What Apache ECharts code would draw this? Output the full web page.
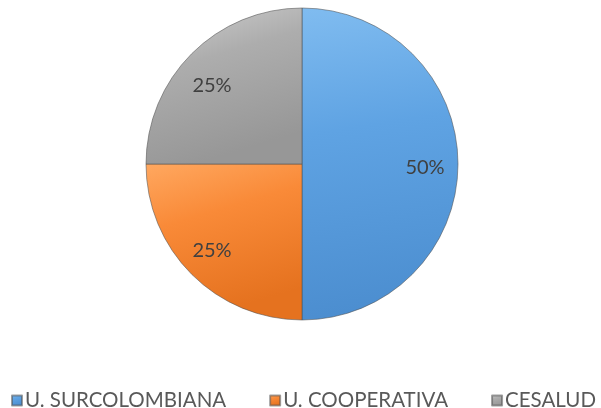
<!DOCTYPE html>
<html>
<head>
<meta charset="utf-8">
<script src="https://cdn.jsdelivr.net/npm/echarts@6/dist/echarts.min.js"></script>
<style>
html,body{margin:0;padding:0;background:#fff;}
#chart{width:601px;height:408px;}
</style>
</head>
<body>
<div id="chart"></div>
<script>
var categories = ['U. SURCOLOMBIANA', 'U. COOPERATIVA', 'CESALUD'];
var values = [50, 25, 25];
var labels = ['50%', '25%', '25%'];

var gradients = [
  ['#80bcf0', '#5fa3e3', '#4b8dcf'],
  ['#ffa860', '#f98a38', '#e5721f'],
  ['#cfcfcf', '#adadad', '#979797']
];
var labelOffsets = [[0, 4], [-3, 0], [-3, 9]];
function grad(c) {
  return {
    type: 'linear', x: 0, y: 0, x2: 0.3, y2: 1,
    colorStops: [{offset: 0, color: c[0]}, {offset: 0.4, color: c[1]}, {offset: 1, color: c[2]}]
  };
}
var fontFam = 'Lato';
var chart = echarts.init(document.getElementById('chart'), null, {renderer: 'canvas'});
chart.setOption({
  animation: false,
  legend: {
    data: categories,
    top: 390,
    left: 11,
    right: 0,
    itemWidth: 10,
    itemHeight: 10,
    itemGap: 43,
    padding: 0,
    icon: 'rect',
    textStyle: {fontFamily: fontFam, fontSize: 20.5, color: '#595959', padding: [0, 0, 0, -2]}
  },
  series: [
    {
      type: 'pie',
      center: [302, 164],
      radius: [0, 156],
      startAngle: 90,
      clockwise: true,
      silent: true,
      label: {show: false},
      labelLine: {show: false},
      itemStyle: {borderColor: 'rgba(80,80,80,0.55)', borderWidth: 1},
      data: categories.map(function (n, i) {
        return {name: n, value: values[i], itemStyle: {color: grad(gradients[i])}};
      })
    },
    {
      type: 'pie',
      center: [302, 164],
      radius: [84, 156],
      startAngle: 90,
      clockwise: true,
      silent: true,
      legendHoverLink: false,
      itemStyle: {color: 'rgba(0,0,0,0)', borderWidth: 0},
      label: {
        show: true, position: 'inside',
        fontFamily: fontFam, fontSize: 20, color: '#404040',
        formatter: function (p) { return labels[p.dataIndex]; }
      },
      labelLine: {show: false},
      data: categories.map(function (n, i) {
        return {name: n + ' ', value: values[i], label: {offset: labelOffsets[i]}};
      })
    }
  ]
});
</script>
</body>
</html>
